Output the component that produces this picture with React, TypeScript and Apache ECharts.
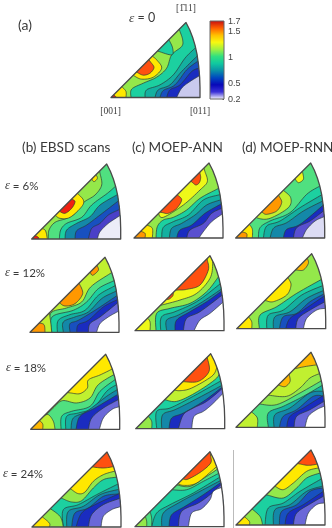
import React, { useEffect, useRef } from "react";
import * as echarts from "echarts";

type Band = [number, string, number[][]];

const PALETTE = ["#ffffff", "#c9c9ee", "#5a50d0", "#1a2cc0", "#1850c0", "#1488a8", "#14b0a0", "#1cd0a0", "#50e080", "#94e84a", "#c0f030", "#eef818", "#ffe800", "#ffb800", "#ff9800", "#ff5010", "#f02010", "#dcdcf4", "#ececf8", "#6a68d8", "#4a40c8"];

const BOUNDARY = [[0, 0], [267, 0], [267, 30], [266, 60], [263, 95], [258, 130], [252, 157], [245, 180], [236, 203], [225, 225]];

const BANDS_A: Band[] = [
  [7, "R", [[393, 293], [395, 268], [430, 250], [470, 232], [500, 205], [515, 165], [545, 140], [548, 120], [540, 95]]],
  [6, "R", [[435, 293], [440, 270], [480, 255], [520, 225], [555, 175], [585, 145]]],
  [5, "R", [[465, 293], [475, 270], [510, 255], [545, 215], [590, 170]]],
  [4, "R", [[480, 293], [490, 272], [525, 255], [560, 210], [592, 185]]],
  [3, "R", [[500, 293], [510, 270], [540, 255], [575, 215], [597, 205]]],
  [1, "R", [[530, 293], [545, 265], [570, 245], [598, 228]]],
  [12, "L", [[367, 262], [378, 275], [378, 293]]],
  [16, "L", [[340, 284], [350, 293]]],
  [12, "H", [[402, 228], [425, 238], [460, 232], [485, 205], [470, 180], [458, 170]]],
  [15, "H", [[412, 218], [430, 226], [450, 220], [462, 203], [452, 187]]],
  [7, "H", [[477, 155], [515, 165], [518, 145], [508, 122]]],
];
const BANDS_B6: Band[] = [
  [8, "R", [[145, 327], [147, 300], [165, 277], [200, 265], [225, 250], [250, 218], [285, 195], [305, 165], [300, 130]]],
  [7, "R", [[178, 327], [182, 300], [200, 280], [245, 262], [275, 225], [322, 190], [345, 170]]],
  [5, "R", [[195, 327], [200, 300], [230, 280], [270, 260], [300, 225], [350, 195]]],
  [4, "R", [[225, 327], [230, 302], [260, 285], [300, 255], [352, 215]]],
  [20, "R", [[265, 327], [275, 295], [300, 280], [325, 255], [355, 240]]],
  [18, "R", [[292, 327], [300, 305], [325, 280], [358, 258]]],
  [12, "L", [[115, 295], [135, 300], [142, 327]]],
  [16, "L", [[105, 316], [115, 322], [116, 327]]],
  [12, "H", [[165, 255], [180, 265], [210, 262], [245, 230], [250, 210], [232, 190]]],
  [16, "H", [[178, 244], [195, 250], [215, 235], [225, 215], [215, 207]]],
  [12, "H", [[275, 147], [282, 155], [292, 145], [288, 134]]],
];
const BANDS_C6: Band[] = [
  [7, "R", [[108, 324], [112, 290], [130, 270], [160, 262], [200, 240], [240, 205], [290, 178]]],
  [6, "R", [[125, 324], [130, 292], [160, 275], [205, 255], [250, 210], [295, 195]]],
  [5, "R", [[148, 324], [155, 295], [185, 280], [225, 255], [260, 225], [300, 210]]],
  [3, "R", [[170, 324], [180, 300], [215, 285], [255, 250], [303, 222]]],
  [2, "R", [[200, 324], [210, 300], [250, 280], [275, 250], [305, 235]]],
  [0, "R", [[237, 324], [250, 305], [275, 275], [307, 252]]],
  [12, "L", [[80, 285], [97, 295], [97, 324]]],
  [14, "L", [[60, 303], [75, 310], [75, 324]]],
  [11, "H", [[115, 250], [130, 262], [190, 225], [240, 180], [262, 155], [255, 125]]],
  [15, "H", [[128, 248], [145, 250], [170, 235], [185, 210], [175, 197]]],
  [15, "H", [[218, 158], [228, 165], [238, 158], [242, 143], [240, 130]]],
];
const BANDS_D6: Band[] = [
  [7, "R", [[415, 321], [420, 290], [450, 270], [510, 245], [560, 190], [600, 165]]],
  [6, "R", [[430, 321], [440, 285], [480, 270], [540, 230], [604, 192]]],
  [5, "R", [[450, 321], [462, 290], [500, 275], [550, 240], [608, 210]]],
  [3, "R", [[490, 321], [500, 295], [540, 280], [610, 222]]],
  [2, "R", [[520, 321], [530, 290], [570, 270], [610, 240]]],
  [17, "R", [[547, 321], [560, 295], [585, 270], [610, 258]]],
  [12, "L", [[388, 280], [397, 295], [397, 321]]],
  [14, "L", [[367, 303], [380, 308], [380, 321]]],
  [10, "H", [[400, 250], [415, 262], [450, 262], [505, 230], [512, 200], [490, 178]]],
  [14, "H", [[428, 245], [440, 250], [470, 240], [485, 215], [478, 197]]],
  [11, "H", [[525, 143], [535, 155], [550, 145], [548, 125]]],
];
const BANDS_B12: Band[] = [
  [8, "R", [[152, 246], [152, 190], [200, 174], [245, 156], [272, 111], [330, 71]]],
  [7, "R", [[155, 246], [157, 200], [220, 181], [260, 156], [295, 116], [338, 94]]],
  [6, "R", [[172, 246], [175, 211], [210, 194], [255, 181], [295, 136], [338, 111]]],
  [5, "R", [[190, 246], [190, 216], [225, 201], [265, 186], [305, 146], [343, 126]]],
  [4, "R", [[210, 246], [210, 221], [235, 211], [285, 181], [345, 141]]],
  [3, "R", [[230, 246], [235, 224], [265, 211], [310, 171], [348, 151]]],
  [19, "R", [[265, 246], [270, 221], [300, 201], [350, 161]]],
  [0, "R", [[290, 246], [300, 221], [325, 201], [355, 184]]],
  [10, "L", [[148, 188], [152, 216], [155, 246]]],
  [14, "L", [[115, 219], [132, 224], [135, 246]]],
  [14, "H", [[178, 158], [195, 168], [225, 161], [248, 131], [238, 101]]],
  [14, "H", [[270, 66], [278, 76], [295, 61], [292, 48]]],
];
const BANDS_C12: Band[] = [
  [7, "R", [[108, 242], [110, 190], [150, 175], [210, 160], [260, 125], [292, 85]]],
  [6, "R", [[122, 242], [125, 200], [165, 185], [230, 155], [296, 105]]],
  [5, "R", [[140, 242], [140, 210], [175, 195], [240, 160], [300, 120]]],
  [3, "R", [[165, 242], [170, 210], [210, 185], [260, 155], [302, 125]]],
  [19, "R", [[190, 242], [200, 205], [240, 185], [303, 138]]],
  [0, "R", [[222, 242], [240, 210], [270, 190], [305, 160]]],
  [11, "L", [[78, 200], [90, 215], [90, 242]]],
  [11, "H", [[125, 165], [180, 150], [230, 130], [270, 85], [278, 40], [272, 18]]],
  [15, "H", [[175, 120], [200, 118], [240, 105], [265, 60], [262, 30]]],
  [15, "H", [[140, 148], [148, 147], [158, 138], [160, 130]]],
];
const BANDS_D12: Band[] = [
  [7, "R", [[418, 236], [420, 195], [470, 170], [530, 130], [610, 85]]],
  [6, "R", [[440, 236], [445, 195], [490, 180], [545, 135], [612, 105]]],
  [5, "R", [[460, 236], [465, 200], [510, 185], [560, 145], [614, 120]]],
  [4, "R", [[478, 236], [490, 200], [530, 190], [570, 155], [615, 130]]],
  [3, "R", [[497, 236], [510, 205], [550, 180], [617, 135]]],
  [19, "R", [[527, 236], [535, 205], [570, 180], [615, 155]]],
  [0, "R", [[550, 236], [560, 205], [590, 180], [617, 175]]],
  [12, "L", [[385, 200], [395, 215], [395, 236]]],
  [12, "H", [[438, 152], [460, 155], [500, 135], [513, 105], [505, 85]]],
  [13, "H", [[530, 60], [550, 60], [565, 40], [562, 25]]],
];
const BANDS_B18: Band[] = [
  [10, "T", [[160, 60], [187, 38], [230, 45], [270, 30], [295, -10], [345, -42]]],
  [12, "T", [[212, 15], [240, 17], [262, 0], [265, -24], [300, -39], [335, -56]]],
  [7, "R", [[183, 124], [185, 85], [215, 70], [270, 55], [300, 10], [345, -25]]],
  [6, "R", [[197, 124], [200, 85], [235, 75], [280, 60], [320, 10], [350, -10]]],
  [5, "R", [[213, 124], [220, 90], [260, 70], [320, 25], [352, 5]]],
  [3, "R", [[228, 124], [240, 85], [285, 60], [352, 20]]],
  [19, "R", [[265, 124], [275, 90], [310, 60], [355, 35]]],
  [0, "R", [[298, 124], [310, 90], [335, 65], [355, 57]]],
  [10, "L", [[130, 85], [145, 80], [160, 100], [165, 124]]],
  [13, "L", [[118, 97], [128, 108], [128, 124]]],
];
const BANDS_C18: Band[] = [
  [10, "T", [[135, 35], [170, 40], [225, 15], [290, -30], [300, -60]]],
  [12, "T", [[160, 5], [180, 8], [215, 0], [275, -35], [290, -60]]],
  [6, "R", [[110, 122], [110, 70], [150, 60], [210, 30], [300, -20]]],
  [5, "R", [[125, 122], [128, 80], [165, 65], [225, 35], [300, -5]]],
  [3, "R", [[147, 122], [155, 90], [190, 75], [250, 40], [303, 0]]],
  [19, "R", [[175, 122], [190, 80], [220, 60], [260, 40], [304, 4]]],
  [0, "R", [[215, 122], [222, 85], [250, 70], [275, 50], [305, 20]]],
  [9, "L", [[85, 85], [95, 100], [95, 122]]],
  [15, "H", [[190, -19], [235, -20], [267, -50], [262, -90]]],
];
const BANDS_D18: Band[] = [
  [9, "T", [[418, 48], [470, 50], [540, 15], [610, -25]]],
  [10, "T", [[448, 22], [500, 25], [540, 0], [570, -30], [604, -45]]],
  [13, "T", [[525, -58], [560, -65], [610, -72]]],
  [6, "R", [[445, 118], [445, 75], [490, 55], [550, 25], [610, -10]]],
  [5, "R", [[462, 118], [465, 80], [510, 60], [570, 15], [612, 10]]],
  [4, "R", [[478, 118], [490, 85], [530, 65], [580, 25], [613, 25]]],
  [3, "R", [[500, 118], [510, 85], [550, 60], [614, 20]]],
  [19, "R", [[522, 118], [530, 85], [570, 65], [612, 40]]],
  [0, "R", [[555, 118], [565, 85], [590, 65], [612, 55]]],
  [13, "H", [[475, -9], [495, -4], [510, -19], [508, -39]]],
  [10, "L", [[395, 72], [412, 90], [412, 118]]],
];
const BANDS_B24: Band[] = [
  [9, "T", [[188, 332], [215, 342], [245, 338], [280, 300], [310, 275], [345, 268]]],
  [12, "T", [[215, 305], [235, 317], [255, 312], [280, 280], [310, 260], [342, 250]]],
  [15, "T", [[278, 237], [310, 240], [340, 236]]],
  [6, "R", [[190, 417], [190, 365], [235, 350], [290, 320], [350, 290]]],
  [5, "R", [[200, 417], [205, 370], [250, 355], [300, 320], [352, 305]]],
  [4, "R", [[215, 417], [225, 375], [265, 360], [310, 325], [354, 318]]],
  [3, "R", [[228, 417], [245, 375], [285, 350], [355, 318]]],
  [19, "R", [[265, 417], [275, 380], [310, 350], [357, 332]]],
  [0, "R", [[303, 417], [310, 385], [335, 365], [358, 357]]],
  [9, "L", [[145, 358], [180, 385], [190, 417]]],
  [12, "L", [[125, 385], [148, 405], [148, 417]]],
];
const BANDS_C24: Band[] = [
  [8, "T", [[155, 305], [200, 305], [250, 280], [292, 258]]],
  [10, "T", [[168, 290], [210, 295], [260, 265], [290, 245]]],
  [12, "T", [[170, 285], [190, 292], [230, 285], [285, 240]]],
  [6, "R", [[95, 416], [110, 375], [150, 350], [220, 315], [295, 270]]],
  [5, "R", [[125, 416], [130, 375], [175, 345], [240, 310], [297, 280]]],
  [3, "R", [[147, 416], [155, 380], [195, 355], [250, 320], [300, 285]]],
  [19, "R", [[175, 416], [185, 370], [235, 345], [270, 320], [303, 290]]],
  [0, "R", [[205, 416], [215, 375], [245, 362], [270, 335], [280, 310], [305, 298]]],
  [8, "L", [[90, 370], [95, 390], [95, 416]]],
  [9, "L", [[76, 385], [80, 400], [80, 416]]],
  [15, "H", [[190, 273], [205, 273], [245, 250], [272, 225], [272, 205]]],
];
const BANDS_D24: Band[] = [
  [9, "T", [[445, 322], [490, 330], [530, 300], [560, 270], [600, 255]]],
  [12, "T", [[467, 296], [490, 305], [520, 285], [560, 250], [595, 240]]],
  [15, "T", [[540, 228], [565, 232], [595, 228]]],
  [6, "R", [[435, 411], [445, 360], [490, 345], [540, 310], [600, 275]]],
  [5, "R", [[460, 411], [465, 365], [510, 350], [560, 310], [605, 295]]],
  [4, "R", [[478, 411], [485, 370], [530, 350], [570, 310], [607, 300]]],
  [3, "R", [[495, 411], [505, 375], [550, 350], [610, 310]]],
  [19, "R", [[520, 411], [530, 375], [575, 345], [610, 325]]],
  [0, "R", [[555, 411], [565, 375], [590, 350], [612, 345]]],
  [9, "L", [[395, 362], [420, 385], [428, 411]]],
  [12, "L", [[372, 385], [388, 400], [388, 411]]],
];

const COLORBAR_TICKS = [0.2, 0.5, 1, 1.5, 1.7];
const COLORBAR_RANGE = [0.2, 1.7];
const COLORBAR_STOPS = ["#f4f4fc", "#3a30d8", "#0808b8", "#0048c0", "#0a90a8", "#10c8a0", "#30e080", "#a0f040", "#f8f810", "#ffc000", "#ff6000", "#c81010"];

// left, baseline, origin x, origin y, background, bands
const PANELS: [number, number, number, number, number, Band[]][] = [
  [111, 97.5, 333, 293, 9, BANDS_A],
  [31.7, 239, 95, 327, 9, BANDS_B6],
  [134, 238, 42, 324, 9, BANDS_C6],
  [235.7, 238, 347, 321, 8, BANDS_D6],
  [30, 332.3, 90, 247, 10, BANDS_B12],
  [135, 330.7, 45, 242, 9, BANDS_C12],
  [236.7, 328.7, 350, 236, 9, BANDS_D12],
  [30.7, 429.3, 92, 124, 8, BANDS_B18],
  [135.7, 428.7, 47, 122, 7, BANDS_C18],
  [236, 427.3, 348, 118, 8, BANDS_D18],
  [32, 527, 96, 417, 7, BANDS_B24],
  [135, 526.7, 45, 416, 7, BANDS_C24],
  [236, 525, 348, 411, 7, BANDS_D24],
];

const SANS = "Lato, 'Open Sans', sans-serif";
const SERIF = "'Liberation Serif', serif";

function spline(pts: number[][]): number[][] {
  const out: number[][] = [];
  const n = pts.length;
  for (let i = 0; i < n - 1; i++) {
    const a = pts[Math.max(i - 1, 0)], b = pts[i], c = pts[i + 1], d = pts[Math.min(i + 2, n - 1)];
    for (let s = 0; s < 8; s++) {
      const t = s / 8, t2 = t * t, t3 = t2 * t;
      const f = (k: number) => 0.5 * (2 * b[k] + (c[k] - a[k]) * t + (2 * a[k] - 5 * b[k] + 4 * c[k] - d[k]) * t2 + (3 * b[k] - a[k] - 3 * c[k] + d[k]) * t3);
      out.push([f(0), f(1)]);
    }
  }
  out.push(pts[n - 1]);
  return out;
}

function extend(p: number[], q: number[]): number[] {
  const dx = p[0] - q[0], dy = p[1] - q[1], l = Math.hypot(dx, dy) || 1;
  return [p[0] + (dx / l) * 30, p[1] + (dy / l) * 30];
}

function bandShape(kind: string, pts: number[][], ox: number, oy: number): number[][] {
  const curve = spline(pts);
  const first = extend(curve[0], curve[1]);
  const last = extend(curve[curve.length - 1], curve[curve.length - 2]);
  const line = [first, ...curve, last];
  const far = 60;
  if (kind === "R") return [...line, [last[0], oy - 400], [ox + 400, oy - 400], [ox + 400, oy + far], [first[0], oy + far]];
  if (kind === "L") return [...line, [last[0], oy + far], [ox - far, oy + far], [ox - far, first[1]]];
  if (kind === "T") return [...line, [last[0], oy - 400], [first[0], oy - 400]];
  return [...line, [first[0], last[1]]];
}

function text(x: number, y: number, t: string, fontSize: number, fontFamily: string, extra: any = {}) {
  return {
    type: "text", x, y, silent: true,
    style: { text: t, fontSize, fontFamily, fill: "#3a3a3a", textVerticalAlign: "middle", verticalAlign: "middle", ...extra },
  };
}

function epsilon(x: number, y: number, t: string, size: number) {
  return text(x, y, `{e|\u03b5}{n| = ${t}}`, size, SANS, {
    rich: {
      e: { fontStyle: "italic", fontFamily: SERIF, fontSize: size + 1, fill: "#3a3a3a" },
      n: { fontFamily: SANS, fontSize: size, fill: "#3a3a3a" },
    },
  });
}

export default function App() {
  const ref = useRef<HTMLDivElement>(null);
  useEffect(() => {
    const chart = echarts.init(ref.current!, undefined, { renderer: "svg" });
    const grid: any[] = [], xAxis: any[] = [], yAxis: any[] = [], series: any[] = [];
    PANELS.forEach(([left, base, ox, oy, bg, bands], i) => {
      grid.push({ left, top: base - 75, width: 89, height: 75, containLabel: false });
      xAxis.push({ type: "value", gridIndex: i, min: ox, max: ox + 267, show: false });
      yAxis.push({ type: "value", gridIndex: i, min: oy - 225, max: oy, inverse: true, show: false });
      const outline = BOUNDARY.map(([u, v]) => [ox + u, oy - v]);
      series.push({
        type: "custom", xAxisIndex: i, yAxisIndex: i, clip: false, silent: true,
        data: [-1, ...bands.map((_, k) => k), -2].map((k) => [k]),
        renderItem: (_: any, api: any) => {
          const k = api.value(0);
          const box = outline.map((p) => api.coord(p));
          if (k === -1) return { type: "polygon", shape: { points: box }, style: { fill: PALETTE[bg], stroke: "none" } };
          if (k === -2) return { type: "polygon", shape: { points: box }, style: { fill: "none", stroke: "#4a4a4a", lineWidth: 1.3, lineJoin: "round" } };
          const [c, kind, pts] = bands[k];
          return {
            type: "polygon",
            shape: { points: bandShape(kind, pts, ox, oy).map((p) => api.coord(p)) },
            style: { fill: PALETTE[c], stroke: "#2a3a3a", lineWidth: 0.7 },
            clipPath: { type: "polygon", shape: { points: box } },
          };
        },
      });
    });
    const n = PANELS.length;
    grid.push({ left: 210, top: 21, width: 14, height: 78 });
    xAxis.push({ type: "category", gridIndex: n, data: ["bar"], show: false });
    yAxis.push({
      type: "value", gridIndex: n, min: COLORBAR_RANGE[0], max: COLORBAR_RANGE[1], position: "right",
      splitLine: { show: false }, axisLine: { show: false },
      axisTick: { show: true, inside: true, length: 1.5, lineStyle: { color: "#555" }, customValues: COLORBAR_TICKS },
      axisLabel: { customValues: COLORBAR_TICKS, margin: 4, fontSize: 9, color: "#444", fontFamily: "'Liberation Sans', sans-serif", formatter: (v: number) => String(v) },
    });
    series.push({
      type: "custom", xAxisIndex: n, yAxisIndex: n, silent: true, clip: false,
      data: [["bar", COLORBAR_RANGE[1]]],
      renderItem: (_: any, api: any) => {
        const top = api.coord(["bar", COLORBAR_RANGE[1]]);
        const bottom = api.coord(["bar", COLORBAR_RANGE[0]]);
        return {
          type: "rect",
          shape: { x: 210, y: top[1], width: 14, height: bottom[1] - top[1] },
          style: {
            stroke: "#666", lineWidth: 1,
            fill: new echarts.graphic.LinearGradient(0, 1, 0, 0, COLORBAR_STOPS.map((color, i) => ({ offset: i / (COLORBAR_STOPS.length - 1), color }))),
          },
        };
      },
    });
    chart.setOption({
      animation: false,
      grid, xAxis, yAxis, series,
      graphic: [
        text(18, 24, "(a)", 14, SANS),
        epsilon(129, 17, "0", 12.5),
        text(186, 8, "[1\u030411]", 9.5, SERIF, { textAlign: "center" }),
        text(110.5, 111, "[001]", 9.5, SERIF, { textAlign: "center" }),
        text(200, 111, "[011]", 9.5, SERIF, { textAlign: "center" }),
        text(22, 147, "(b) EBSD scans", 13.6, SANS),
        text(132, 147, "(c) MOEP-ANN", 13.6, SANS),
        text(242, 147, "(d) MOEP-RNN", 13.6, SANS),
        epsilon(5, 185, "6%", 11.5),
        epsilon(5, 272, "12%", 11.5),
        epsilon(6, 367, "18%", 11.5),
        epsilon(3, 473, "24%", 11.5),
        { type: "line", silent: true, shape: { x1: 233.5, y1: 450, x2: 233.5, y2: 528 }, style: { stroke: "#bbbbbb", lineWidth: 1 } },
      ],
    });
    return () => chart.dispose();
  }, []);
  return <div ref={ref} style={{ position: "absolute", left: 0, top: 0, width: 332, height: 528, background: "#fff", filter: "blur(0.3px)" }} />;
}
